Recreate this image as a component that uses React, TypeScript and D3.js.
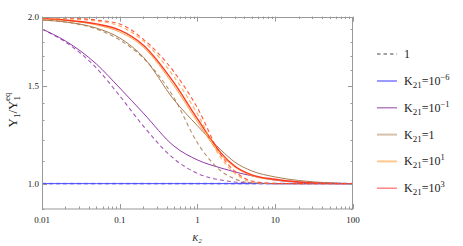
import React from 'react';
import * as d3 from 'd3';

// K2 sample points (x)
const k2 = [0.01, 0.02, 0.05, 0.1, 0.2, 0.5, 1, 2, 3, 5, 10, 20, 50, 100];

// solid curves, one per K21
const blueSolid = [1, 1, 1, 1, 1, 1, 1, 1, 1, 1, 1, 1, 1, 1];
const purpleSolid = [1.899, 1.808, 1.643, 1.487, 1.341, 1.168, 1.103, 1.067, 1.05, 1.033, 1.014, 1.006, 1.002, 1.0];
const brownSolid = [1.972, 1.956, 1.907, 1.83, 1.692, 1.415, 1.271, 1.15, 1.094, 1.054, 1.028, 1.013, 1.003, 1.0];
const orangeSolid = [1.981, 1.968, 1.932, 1.876, 1.763, 1.5, 1.292, 1.126, 1.072, 1.033, 1.015, 1.006, 1.001, 1.0];
const redSolid = [1.985, 1.972, 1.94, 1.891, 1.778, 1.519, 1.308, 1.136, 1.076, 1.037, 1.018, 1.007, 1.001, 1.0];

// dashed curves (the "1" case)
const blueDashed = [1, 1, 1, 1, 1, 1, 1, 1, 1, 1, 1, 1, 1, 1];
const purpleDashed = [1.899, 1.8, 1.616, 1.439, 1.271, 1.108, 1.043, 1.015, 1.007, 1.003, 1.0, 1.0, 1.0, 1.0];
const brownDashed = [1.972, 1.956, 1.899, 1.815, 1.685, 1.427, 1.184, 1.054, 1.02, 1.003, 1.0, 1.0, 1.0, 1.0];
const orangeDashed = [1.989, 1.981, 1.964, 1.923, 1.808, 1.557, 1.335, 1.112, 1.045, 1.007, 1.0, 1.0, 1.0, 1.0];
const redDashed = [1.993, 1.989, 1.972, 1.94, 1.822, 1.589, 1.369, 1.126, 1.054, 1.011, 1.001, 1.0, 1.0, 1.0];

const xTickLabels = ['0.01', '0.1', '1', '10', '100'];
const yTickLabels = ['1.0', '1.5', '2.0'];
const legendExp = ['\u22126', '\u22121', '', '1', '3'];

const colors = ['#4a4aff', '#9238a8', '#a67c52', '#ffa040', '#ff3a22'];
const legendColors = ['#5858ff', '#a060b4', '#d6c2ac', '#ffc890', '#ff6a6a'];

const W = 463, H = 246;
const left = 42, right = 353, top = 16.6, bottom = 209;

export default function App() {
  const x = d3.scaleLog().domain([0.01, 100]).range([left, right]);
  const y = d3.scaleLog().domain([0.9, 2]).range([bottom, top]);

  const line = (vals: number[]) =>
    d3.line<number>()
      .x((_, i) => x(k2[i]))
      .y(d => y(d))
      .curve(d3.curveMonotoneX)(vals) || '';

  const solids = [blueSolid, purpleSolid, brownSolid, orangeSolid, redSolid];
  const dashes = [blueDashed, purpleDashed, brownDashed, orangeDashed, redDashed];

  const xMajor = xTickLabels.map(Number);
  const xMinor: number[] = [];
  [0.01, 0.1, 1, 10].forEach(d => { for (let m = 2; m <= 9; m++) xMinor.push(d * m); });
  const yMajor = yTickLabels.map(Number);
  const yMinor = [0.9, 1.1, 1.2, 1.3, 1.4, 1.6, 1.7, 1.8, 1.9];

  const frame = '#999';
  const fy = (v: number) => Math.round(y(v)) + 0.5;
  const fx = (v: number) => Math.round(x(v)) + 0.5;

  return (
    <svg width={W} height={H} style={{ position: 'absolute', left: 0, top: 0 }} fontFamily="Liberation Serif">
      <rect x={0} y={0} width={W} height={H} fill="#fff" />
      <g clipPath="url(#plot)">
        <defs>
          <clipPath id="plot"><rect x={left} y={top - 1} width={right - left} height={bottom - top + 1} /></clipPath>
        </defs>
        {solids.map((s, i) => (
          <path key={'s' + i} d={line(s)} fill="none" stroke={colors[i]} strokeWidth={i === 4 ? 1.4 : 1} />
        ))}
        {dashes.map((s, i) => (
          <path key={'d' + i} d={line(s)} fill="none" stroke={colors[i]} strokeWidth={i === 0 ? 1.6 : 1.1}
            strokeDasharray="4,3" opacity={i === 0 ? 0.6 : 0.85} />
        ))}
      </g>
      <rect x={left + 0.5} y={Math.round(top) + 0.5} width={right - left - 1} height={bottom - Math.round(top) - 0.5}
        fill="none" stroke={frame} strokeWidth={1} />
      {xMajor.map(v => (
        <g key={'xM' + v} stroke={frame}>
          <line x1={fx(v)} x2={fx(v)} y1={bottom} y2={bottom - 5} />
          <line x1={fx(v)} x2={fx(v)} y1={top} y2={top + 5} />
        </g>
      ))}
      {xMinor.map(v => (
        <g key={'xm' + v} stroke={frame}>
          <line x1={fx(v)} x2={fx(v)} y1={bottom} y2={bottom - 2.5} />
          <line x1={fx(v)} x2={fx(v)} y1={top} y2={top + 2.5} />
        </g>
      ))}
      {yMajor.map(v => (
        <g key={'yM' + v} stroke={frame}>
          <line x1={left} x2={left + 5} y1={fy(v)} y2={fy(v)} />
          <line x1={right} x2={right - 5} y1={fy(v)} y2={fy(v)} />
        </g>
      ))}
      {yMinor.map(v => (
        <g key={'ym' + v} stroke={frame}>
          <line x1={left} x2={left + 2.5} y1={fy(v)} y2={fy(v)} />
          <line x1={right} x2={right - 2.5} y1={fy(v)} y2={fy(v)} />
        </g>
      ))}
      {xTickLabels.map(t => (
        <text key={'xl' + t} x={x(Number(t))} y={223} fontSize={9} textAnchor="middle" fill="#222">{t}</text>
      ))}
      {yTickLabels.map(t => (
        <text key={'yl' + t} x={left - 3} y={y(Number(t)) + 3} fontSize={9} textAnchor="end" fill="#222">{t}</text>
      ))}
      <text x={197} y={241} fontSize={9} fontStyle="italic" textAnchor="middle" fill="#222">
        K<tspan fontSize={6.5} dy={2}>2</tspan>
      </text>
      <text transform="translate(17,110) rotate(-90)" fontSize={13} textAnchor="middle" fill="#222">
        Y<tspan fontSize={9} dy={3}>1</tspan><tspan dy={-3}>/Y</tspan><tspan fontSize={9} dy={3}>1</tspan>
        <tspan fontSize={9} dx={-5} dy={-10}>eq</tspan>
      </text>
      <g>
        <line x1={377} x2={397} y1={54} y2={54} stroke="#444" strokeDasharray="3.5,3" />
        <text x={404} y={58} fontSize={12} fill="#222">1</text>
        {legendExp.map((e, i) => {
          const ly = 81 + i * 26.8;
          return (
            <g key={'lg' + i}>
              <line x1={377} x2={397} y1={ly} y2={ly} stroke={legendColors[i]} strokeWidth={i === 2 || i === 3 ? 2 : 1.2} />
              <text x={404} y={ly + 4} fontSize={12} fill="#222">
                K<tspan fontSize={9} dy={3}>21</tspan><tspan dy={-3}>={e === '' ? '1' : '10'}</tspan>
                {e !== '' && <tspan fontSize={8.5} dy={-5}>{e}</tspan>}
              </text>
            </g>
          );
        })}
      </g>
    </svg>
  );
}
